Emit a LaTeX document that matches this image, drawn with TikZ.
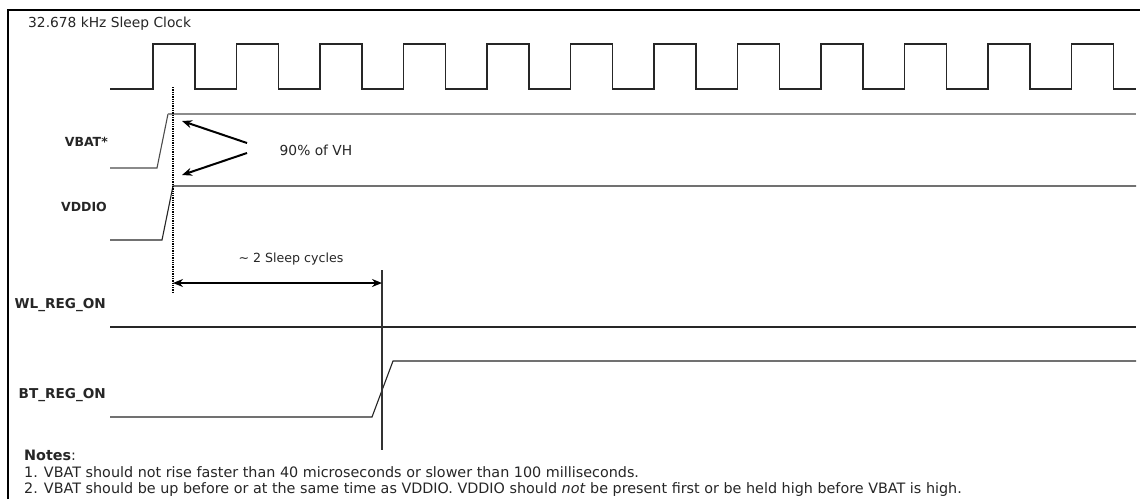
\documentclass[tikz,border=0pt]{standalone}
\usepackage{fontspec}
\setmainfont{DejaVu Sans}
\usetikzlibrary{arrows.meta}
\begin{document}
\begin{tikzpicture}[x=1pt,y=-1pt,
  sig/.style={line width=1.1pt,black!85},
  sighi/.style={line width=1.4pt,black!45},
  lbl/.style={font=\bfseries\fontsize{12.5}{14}\selectfont,anchor=base east,inner sep=0pt,text=black!85},
  lblw/.style={lbl,font=\bfseries\fontsize{13.6}{15}\selectfont},
  txt/.style={font=\fontsize{13.8}{16}\selectfont,inner sep=0pt,text=black!85},
  notetxt/.style={txt,font=\fontsize{14.35}{16}\selectfont,anchor=base west},
  callout/.style={line width=2pt,-{Stealth[length=10pt,width=8pt]}},
  dim/.style={line width=2pt,{Stealth[length=10pt,width=8pt]}-{Stealth[length=10pt,width=8pt]}}]
\useasboundingbox (0,0) rectangle (1140,499);
\fill[white] (0,0) rectangle (1140,499);
% frame
\draw[line width=1.2pt] (8,499) -- (8,10) -- (1140,10);
% title
\node[txt,anchor=base west] (title) at (28,27) {32.678 kHz Sleep Clock};
% clock
\draw[sig] (110,89) -- (153,89)
  \foreach \k in {0,...,11}{ -- ({153+83.5*\k},89) -- ({153+83.5*\k},44) -- ({195+83.5*\k},44) -- ({195+83.5*\k},89) }
  -- (1136,89);
% labels
\node[lbl] (vbat) at (108,146) {VBAT*};
\node[lbl] (vddio) at (107,211) {VDDIO};
\node[lblw] (wl) at (106,308) {WL\_REG\_ON};
\node[lblw] (bt) at (106,398) {BT\_REG\_ON};
% VBAT
\coordinate (vb0) at (110,168);
\coordinate (vb1) at (157,168);
\coordinate (vb2) at (168,114);
\coordinate (vb3) at (1136,114);
\draw[sig,black!70] (vb0) -- (vb1) -- (vb2);
\draw[sighi] (vb2) -- (vb3);
% VDDIO
\coordinate (vd0) at (110,240);
\coordinate (vd1) at (162,240);
\coordinate (vd2) at (173,186);
\coordinate (vd3) at (1136,186);
\draw[sig] (vd0) -- (vd1) -- (vd2) -- (vd3);
% WL_REG_ON
\coordinate (w0) at (110,327);
\coordinate (w1) at (1136,327);
\draw[sig] (w0) -- (w1);
% BT_REG_ON
\coordinate (b0) at (110,417);
\coordinate (b1) at (372,417);
\coordinate (b2) at (393,361);
\coordinate (b3) at (1136,361);
\draw[sig] (b0) -- (b1) -- (b2) -- (b3);
% dotted marker
\coordinate (dtop) at (173,87);
\coordinate (dbot) at (173,292);
\draw[line width=1.3pt,densely dotted] (dtop) -- (dbot);
% solid marker
\coordinate (stop) at (382,270);
\coordinate (sbot) at (382,450);
\draw[line width=1.1pt,black!80] (stop) -- (sbot);
% 90% callout
\node[txt,anchor=base] (vh) at (316,155) {90\% of VH};
\coordinate (a1s) at (247,143);
\coordinate (a1e) at (182,121);
\coordinate (a2s) at (247,153);
\coordinate (a2e) at (182,175);
\draw[callout] (a1s) -- (a1e);
\draw[callout] (a2s) -- (a2e);
% sleep cycles
\node[txt,anchor=base,font=\fontsize{12.6}{15}\selectfont] (sc) at (291,262) {\textasciitilde\ 2 Sleep cycles};
\coordinate (dl) at (173,283);
\coordinate (dr) at (382,283);
\draw[dim] (dl) -- (dr);
% notes
\node[notetxt] (notes) at (24,460) {\textbf{Notes}:};
\node[notetxt] (n1) at (24,477) {1. VBAT should not rise faster than 40 microseconds or slower than 100 milliseconds.};
\node[notetxt] (n2) at (24,493) {2. VBAT should be up before or at the same time as VDDIO. VDDIO should \textit{not} be present first or be held high before VBAT is high.};
\end{tikzpicture}
\end{document}
